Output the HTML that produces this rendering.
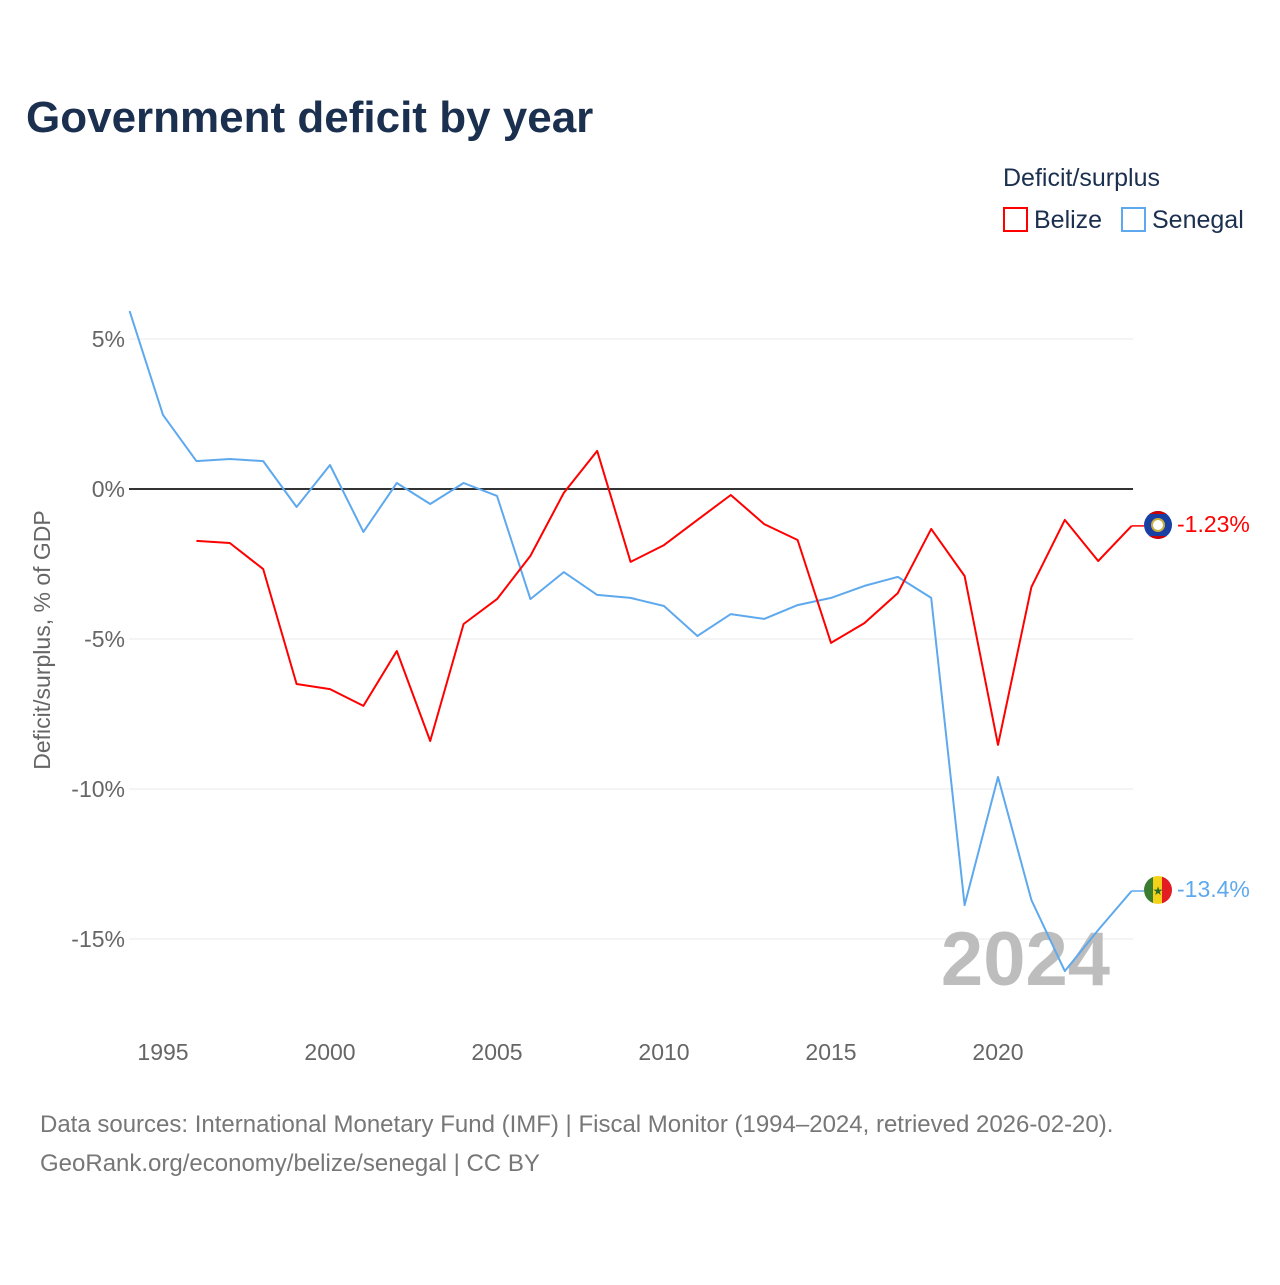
<!DOCTYPE html>
<html><head><meta charset="utf-8"><style>
body{margin:0;background:#fff;font-family:"Liberation Sans",sans-serif}
</style></head><body>
<svg width="1280" height="1280" viewBox="0 0 1280 1280" xmlns="http://www.w3.org/2000/svg">
<text x="26" y="132" font-size="44" font-weight="bold" fill="#1b2f4f">Government deficit by year</text>
<text x="1003" y="186" font-size="25" fill="#1b2f4f">Deficit/surplus</text>
<g><rect x="1004" y="208" width="23" height="23" fill="none" stroke="#f00" stroke-width="2"/><text x="1034" y="228" font-size="25" fill="#1b2f4f">Belize</text></g>
<g><rect x="1122" y="208" width="23" height="23" fill="none" stroke="#5ea9ee" stroke-width="2"/><text x="1152" y="228" font-size="25" fill="#1b2f4f">Senegal</text></g>
<g id="grid"></g>
<text transform="translate(50,640) rotate(-90)" text-anchor="middle" font-size="23" fill="#666">Deficit/surplus, % of GDP</text>
<text x="1110" y="985" text-anchor="end" font-size="76" font-weight="bold" fill="#bdbdbd">2024</text>
<g id="series"></g>
<clipPath id="cpb"><circle cx="1158" cy="525" r="14"/></clipPath>
<g clip-path="url(#cpb)"><rect x="1144" y="511" width="28" height="28" fill="#1a3fa3"/><rect x="1144" y="511" width="28" height="3" fill="#c00"/><rect x="1144" y="536" width="28" height="3" fill="#c00"/><circle cx="1158" cy="525" r="6" fill="#fff" stroke="#c8b040" stroke-width="2"/></g>
<g><clipPath id="cp"><circle cx="1158" cy="890" r="14"/></clipPath><g clip-path="url(#cp)"><rect x="1144" y="876" width="10" height="28" fill="#3a7d30"/><rect x="1153" y="876" width="10" height="28" fill="#f5d21a"/><rect x="1162" y="876" width="10" height="28" fill="#e31b23"/></g><text x="1158" y="895" text-anchor="middle" font-size="12" fill="#2a6a2a">★</text></g>
<text x="1177" y="532" font-size="23" fill="#f00">-1.23%</text>
<text x="1177" y="897" font-size="23" fill="#5ea9ee">-13.4%</text>
<text x="40" y="1132" font-size="24" fill="#777">Data sources: International Monetary Fund (IMF) | Fiscal Monitor (1994–2024, retrieved 2026-02-20).</text>
<text x="40" y="1171" font-size="24" fill="#777">GeoRank.org/economy/belize/senegal | CC BY</text>
</svg>
<script>
const years=[1994,1995,1996,1997,1998,1999,2000,2001,2002,2003,2004,2005,2006,2007,2008,2009,2010,2011,2012,2013,2014,2015,2016,2017,2018,2019,2020,2021,2022,2023,2024];
const senegal=[5.93,2.47,0.93,1.0,0.93,-0.6,0.8,-1.43,0.2,-0.5,0.2,-0.23,-3.67,-2.77,-3.53,-3.63,-3.9,-4.9,-4.17,-4.33,-3.87,-3.63,-3.23,-2.93,-3.63,-13.87,-9.6,-13.7,-16.07,-14.7,-13.4];
const belize=[null,null,-1.73,-1.8,-2.67,-6.5,-6.67,-7.23,-5.4,-8.4,-4.5,-3.67,-2.23,-0.13,1.27,-2.43,-1.87,-1.03,-0.2,-1.17,-1.7,-5.13,-4.47,-3.47,-1.33,-2.9,-8.53,-3.27,-1.03,-2.4,-1.23];
const yTicks=[5,0,-5,-10,-15];
const yLabels=["5%","0%","-5%","-10%","-15%"];
const xTicks=[1995,2000,2005,2010,2015,2020];
const NS="http://www.w3.org/2000/svg";
const x=v=>163+(v-1995)*33.4;
const y=v=>489-v*30;
const grid=document.getElementById('grid');
function mk(t,a,p){const e=document.createElementNS(NS,t);for(const k in a)e.setAttribute(k,a[k]);p.appendChild(e);return e;}
yTicks.forEach((t,i)=>{
 const l=mk('line',{x1:129,x2:1133,y1:y(t),y2:y(t),stroke:t===0?'#333':'#e8e8e8','stroke-width':t===0?2:1},grid);
 
 
 const tx=mk('text',{x:125,y:y(t)+8,'text-anchor':'end','font-size':23,fill:'#666'},grid);
 tx.textContent=yLabels[i];
 
 
});
xTicks.forEach(t=>{
 const tx=mk('text',{x:x(t),y:1060,'text-anchor':'middle','font-size':23,fill:'#666'},grid);
 tx.textContent=t;
 
 
});
const s=document.getElementById('series');
function line(vals,col,name){
 let d='';vals.forEach((v,i)=>{if(v===null)return;d+=(d?'L':'M')+x(years[i]).toFixed(1)+','+y(v).toFixed(1);});
 const p=mk('path',{d:d,fill:'none',stroke:col,'stroke-width':2,'stroke-linejoin':'round'},s);
 
 
 const last=vals[vals.length-1];
 mk('line',{x1:x(2024),x2:1144,y1:y(last),y2:y(last),stroke:col,'stroke-width':1.5},s);
}
line(senegal,'#5ea9ee','senegal-line');
line(belize,'#f00','belize-line');
</script>
</body></html>
